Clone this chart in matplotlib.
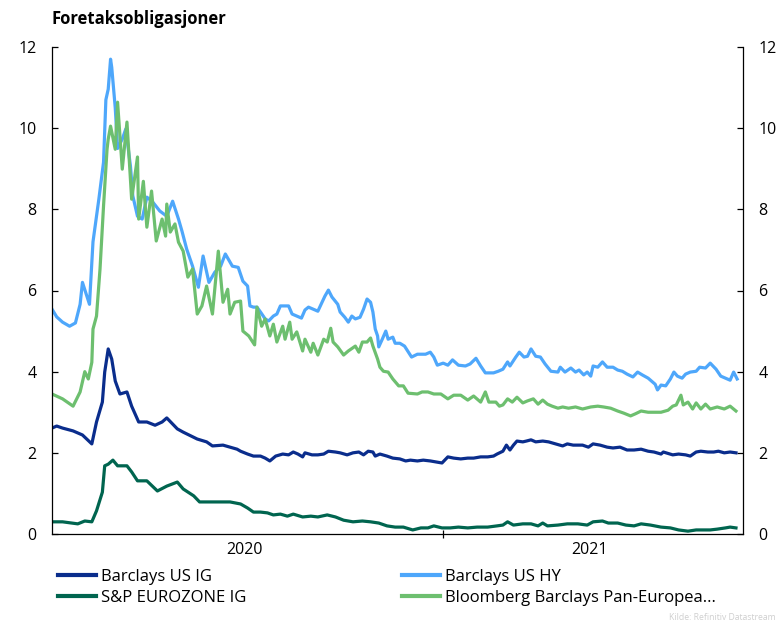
import numpy as np
import matplotlib
matplotlib.use("Agg")
import matplotlib.pyplot as plt
from matplotlib.ticker import FixedLocator, FixedFormatter, NullFormatter
from matplotlib.lines import Line2D

plt.rcParams["font.family"] = ["Open Sans", "DejaVu Sans"]

# day offsets from 2020-02-02, yields in percent
start = np.datetime64("2020-02-02")

us_ig_days = [0, 4, 9, 18, 26, 34, 38, 43, 45, 48, 51, 54, 58, 64, 68, 74, 81, 88, 94, 98,
              107, 112, 124, 132, 137, 146, 158, 161, 167, 172, 178, 182, 186, 191, 197, 202,
              206, 210, 214, 216, 222, 227, 232, 236, 242, 246, 252, 257, 262, 266, 270, 274,
              276, 280, 286, 291, 297, 302, 306, 312, 317, 323, 329, 333, 338, 343, 349, 355,
              360, 366, 372, 377, 380, 385, 388, 391, 394, 397, 402, 405, 409, 413, 419, 424,
              430, 436, 440, 445, 453, 458, 462, 468, 474, 479, 485, 491, 497, 503, 509, 514,
              520, 522, 530, 535, 541, 545, 550, 554, 560, 565, 569, 574, 579, 584]
us_ig_vals = [2.61, 2.66, 2.61, 2.54, 2.44, 2.22, 2.76, 3.25, 3.99, 4.56, 4.31, 3.77, 3.45,
              3.50, 3.15, 2.76, 2.76, 2.68, 2.76, 2.86, 2.59, 2.51, 2.34, 2.27, 2.17, 2.19,
              2.09, 2.04, 1.97, 1.92, 1.92, 1.87, 1.80, 1.92, 1.97, 1.95, 2.02, 1.97, 1.90,
              2.00, 1.95, 1.95, 1.97, 2.04, 2.02, 2.00, 1.95, 2.00, 2.02, 1.95, 2.04, 2.02,
              1.92, 1.97, 1.92, 1.87, 1.85, 1.80, 1.82, 1.80, 1.82, 1.80, 1.77, 1.75, 1.90,
              1.87, 1.85, 1.87, 1.87, 1.90, 1.90, 1.92, 1.97, 2.04, 2.19, 2.07, 2.19, 2.29,
              2.27, 2.29, 2.32, 2.27, 2.29, 2.27, 2.22, 2.17, 2.22, 2.19, 2.19, 2.14, 2.22,
              2.19, 2.14, 2.12, 2.14, 2.07, 2.07, 2.09, 2.04, 2.02, 1.97, 2.02, 1.95, 1.97,
              1.95, 1.92, 2.02, 2.04, 2.02, 2.02, 2.04, 2.00, 2.02, 2.00]

us_hy_days = [0, 4, 9, 15, 20, 24, 26, 32, 35, 40, 44, 46, 48, 50, 51, 54, 56, 60, 63, 67,
              69, 73, 77, 81, 86, 92, 98, 103, 108, 111, 115, 120, 125, 129, 134, 139, 144,
              148, 154, 159, 163, 167, 169, 172, 175, 178, 182, 185, 189, 192, 195, 199, 202,
              205, 209, 213, 216, 219, 223, 227, 231, 233, 236, 239, 244, 246, 250, 253, 256,
              259, 263, 266, 269, 272, 274, 276, 278, 279, 282, 285, 287, 291, 293, 297, 301,
              307, 312, 319, 323, 326, 329, 334, 338, 342, 347, 353, 357, 362, 366, 370, 377,
              381, 385, 389, 391, 396, 399, 403, 406, 409, 413, 417, 421, 426, 432, 434, 438,
              443, 447, 450, 454, 457, 460, 462, 466, 470, 474, 479, 483, 487, 491, 496, 500,
              504, 509, 513, 515, 517, 520, 524, 528, 531, 534, 538, 541, 545, 550, 553, 558,
              562, 567, 571, 575, 579, 582, 585]
us_hy_vals = [5.54, 5.35, 5.22, 5.12, 5.20, 5.66, 6.20, 5.66, 7.20, 8.25, 9.16, 10.70, 10.96,
              11.70, 11.50, 10.50, 9.50, 9.73, 9.98, 9.06, 8.33, 7.83, 7.76, 8.30, 8.18, 7.96,
              7.83, 8.20, 7.76, 7.46, 7.02, 6.60, 6.08, 6.85, 6.20, 6.45, 6.60, 6.90, 6.60,
              6.57, 6.23, 6.11, 5.62, 5.59, 5.59, 5.47, 5.30, 5.25, 5.37, 5.42, 5.62, 5.62,
              5.62, 5.42, 5.37, 5.32, 5.52, 5.59, 5.54, 5.49, 5.74, 5.86, 6.01, 5.84, 5.66,
              5.47, 5.34, 5.22, 5.37, 5.30, 5.34, 5.54, 5.79, 5.71, 5.47, 5.05, 4.88, 4.61,
              4.80, 5.00, 4.80, 4.85, 4.70, 4.70, 4.63, 4.36, 4.43, 4.43, 4.48, 4.36, 4.16,
              4.21, 4.16, 4.29, 4.16, 4.14, 4.19, 4.33, 4.14, 3.97, 3.97, 4.01, 4.06, 4.24,
              4.14, 4.36, 4.48, 4.36, 4.38, 4.56, 4.38, 4.36, 4.19, 4.01, 3.99, 4.11, 3.99,
              4.09, 3.99, 4.04, 3.92, 3.99, 3.89, 4.14, 4.11, 4.24, 4.11, 4.11, 4.04, 4.01,
              3.94, 3.87, 3.99, 3.92, 3.84, 3.74, 3.69, 3.55, 3.67, 3.65, 3.82, 3.99, 3.89,
              3.84, 3.94, 3.99, 4.01, 4.11, 4.09, 4.21, 4.06, 3.89, 3.84, 3.79, 3.99, 3.82]

ez_ig_days = [0, 9, 22, 28, 34, 38, 43, 45, 48, 52, 56, 64, 68, 73, 81, 90, 98, 107, 112, 121,
              126, 138, 152, 161, 167, 172, 178, 184, 189, 195, 201, 206, 214, 221, 227, 235,
              242, 249, 257, 265, 272, 279, 286, 293, 300, 308, 315, 321, 326, 333, 340, 347,
              355, 363, 372, 380, 385, 389, 394, 402, 409, 415, 419, 423, 432, 440, 449, 457,
              462, 470, 475, 483, 490, 497, 503, 511, 520, 528, 535, 543, 550, 556, 562, 568,
              575, 579, 584]
ez_ig_vals = [0.30, 0.30, 0.25, 0.32, 0.30, 0.57, 1.03, 1.68, 1.72, 1.82, 1.68, 1.68, 1.53,
              1.31, 1.31, 1.06, 1.18, 1.28, 1.11, 0.94, 0.79, 0.79, 0.79, 0.74, 0.64, 0.54,
              0.54, 0.52, 0.47, 0.49, 0.44, 0.49, 0.42, 0.44, 0.42, 0.47, 0.42, 0.34, 0.30,
              0.32, 0.30, 0.27, 0.20, 0.17, 0.17, 0.10, 0.15, 0.15, 0.20, 0.15, 0.15, 0.17,
              0.15, 0.17, 0.17, 0.20, 0.22, 0.30, 0.22, 0.25, 0.25, 0.20, 0.27, 0.20, 0.22,
              0.25, 0.25, 0.22, 0.30, 0.32, 0.27, 0.27, 0.22, 0.20, 0.25, 0.22, 0.17, 0.15,
              0.10, 0.07, 0.10, 0.10, 0.10, 0.12, 0.15, 0.17, 0.15]

pan_eu_days = [0, 9, 18, 24, 28, 31, 34, 35, 38, 41, 44, 47, 48, 50, 54, 56, 60, 64, 68, 73,
               74, 78, 81, 85, 89, 94, 97, 98, 101, 105, 108, 112, 116, 120, 124, 128, 132,
               137, 142, 146, 150, 152, 156, 161, 163, 168, 173, 175, 179, 182, 186, 189, 192,
               197, 199, 203, 205, 209, 214, 216, 221, 223, 227, 232, 235, 238, 240, 244, 249,
               253, 259, 262, 265, 269, 272, 274, 278, 280, 283, 287, 291, 296, 300, 304, 312,
               316, 321, 326, 332, 338, 343, 349, 355, 360, 366, 370, 373, 379, 382, 385, 389,
               393, 397, 402, 406, 411, 415, 419, 423, 427, 432, 436, 441, 447, 453, 460, 466,
               471, 477, 483, 488, 494, 498, 503, 509, 514, 520, 526, 530, 533, 537, 539, 543,
               547, 550, 554, 558, 562, 568, 574, 579, 584]
pan_eu_vals = [3.45, 3.33, 3.15, 3.50, 4.00, 3.82, 4.23, 5.05, 5.37, 6.53, 8.08, 9.48, 9.73,
               10.05, 9.48, 10.64, 8.99, 10.15, 8.25, 9.29, 7.76, 8.69, 7.56, 8.45, 7.22, 7.76,
               7.34, 8.13, 7.44, 7.64, 7.19, 6.97, 6.33, 6.53, 5.42, 5.62, 6.11, 5.42, 6.97,
               5.71, 6.03, 5.42, 5.71, 5.74, 5.00, 4.88, 4.66, 5.59, 5.12, 5.30, 4.88, 5.17,
               4.73, 5.12, 4.80, 5.22, 4.80, 4.98, 4.51, 4.80, 4.48, 4.70, 4.41, 4.80, 4.73,
               5.07, 4.73, 4.61, 4.41, 4.51, 4.63, 4.48, 4.73, 4.73, 4.83, 4.63, 4.31, 4.11,
               4.01, 3.99, 3.82, 3.65, 3.65, 3.47, 3.45, 3.50, 3.50, 3.45, 3.45, 3.33, 3.42,
               3.42, 3.30, 3.40, 3.25, 3.50, 3.25, 3.25, 3.15, 3.18, 3.33, 3.25, 3.37, 3.23,
               3.28, 3.33, 3.20, 3.30, 3.20, 3.15, 3.10, 3.13, 3.10, 3.13, 3.08, 3.13, 3.15,
               3.13, 3.10, 3.03, 2.98, 2.91, 2.96, 3.03, 3.00, 3.00, 3.00, 3.05, 3.15, 3.18,
               3.42, 3.18, 3.25, 3.08, 3.23, 3.08, 3.20, 3.08, 3.13, 3.08, 3.15, 3.03]

series = [
    ("Barclays US IG", us_ig_days, us_ig_vals, "#0a2d8c"),
    ("Barclays US HY", us_hy_days, us_hy_vals, "#4ea7fb"),
    ("S&P EUROZONE IG", ez_ig_days, ez_ig_vals, "#00654f"),
    ("Bloomberg Barclays Pan-Europea...", pan_eu_days, pan_eu_vals, "#6dbf6f"),
]

W, H = 778, 623
fig = plt.figure(figsize=(W / 100, H / 100), dpi=100)
ax = fig.add_axes([52 / W, 1 - 534 / H, (743 - 52) / W, (534 - 47) / H])

handles = {}
for name, days, vals, col in series:
    d = start + np.array(days).astype("timedelta64[D]")
    ln, = ax.plot(d, vals, color=col, lw=2.3, solid_joinstyle="round")
    handles[name] = ln

end = start + np.timedelta64(590, "D")
ax.set_xlim(start, end)
ax.set_ylim(0, 12)
ax.set_yticks([0, 2, 4, 6, 8, 10, 12])

ax.spines["top"].set_visible(False)
for s in ["left", "right", "bottom"]:
    ax.spines[s].set_linewidth(0.9)

ax.tick_params(axis="y", which="both", direction="in", length=4, width=0.9,
               left=True, right=True, labelleft=True, labelright=True,
               labelsize=11.5, pad=11)

# year boundary tick, labels centred on each visible year
yr = np.datetime64("2021-01-01")
ax.xaxis.set_major_locator(FixedLocator([matplotlib.dates.date2num(yr)]))
ax.xaxis.set_major_formatter(NullFormatter())
c20 = start + np.timedelta64(164, "D")
c21 = start + np.timedelta64(459, "D")
ax.xaxis.set_minor_locator(FixedLocator([matplotlib.dates.date2num(c20),
                                         matplotlib.dates.date2num(c21)]))
ax.xaxis.set_minor_formatter(FixedFormatter(["2020", "2021"]))
ax.tick_params(axis="x", which="major", direction="inout", length=6, width=0.9)
ax.tick_params(axis="x", which="minor", length=0, labelsize=11.5, pad=6)

fig.text(52 / W, 1 - 19 / H, "Foretaksobligasjoner", fontsize=12, fontweight="bold",
         va="center", ha="left")

legend_kw = dict(frameon=False, loc="upper left", borderpad=0, borderaxespad=0,
                 handlelength=2.25, handletextpad=0.35, labelspacing=0.32, fontsize=12)
leg_cols = [["Barclays US IG", "S&P EUROZONE IG"],
            ["Barclays US HY", "Bloomberg Barclays Pan-Europea..."]]
for x0, names in zip([58, 402], leg_cols):
    hs = [Line2D([], [], color=handles[n].get_color(), lw=3) for n in names]
    fig.legend(hs, names, bbox_to_anchor=(x0 / W, 1 - 569 / H), **legend_kw)

fig.text(776 / W, 1 - 618 / H, "Kilde: Refinitiv Datastream", fontsize=6.2,
         color="#cfcfcf", ha="right", va="center")

fig.savefig("out.png", dpi=100)
